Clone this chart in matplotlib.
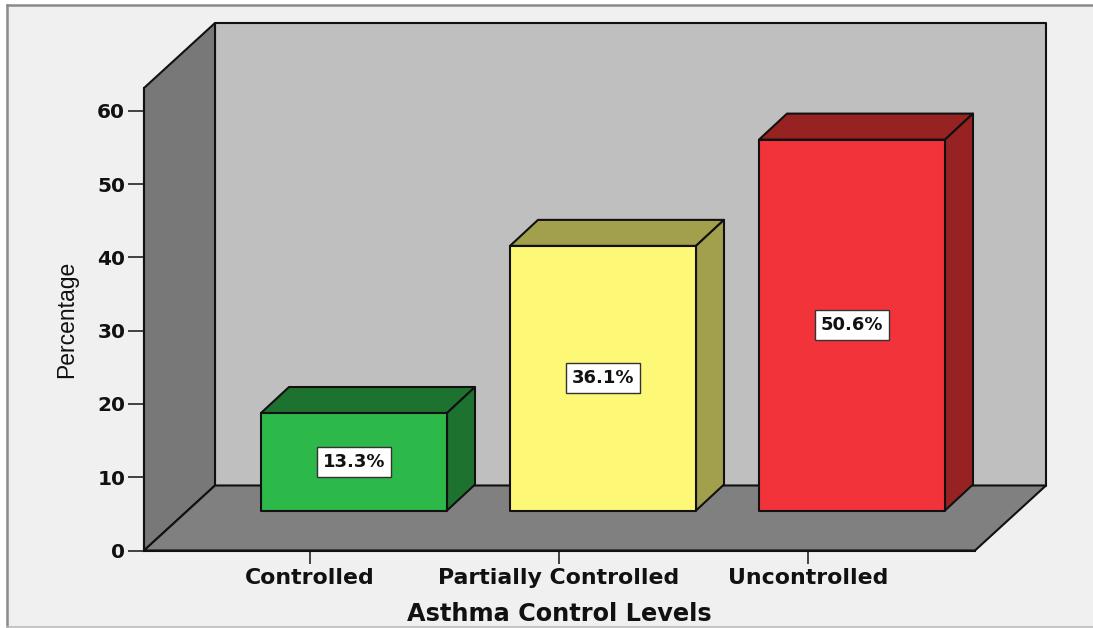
import matplotlib
matplotlib.use("Agg")
import matplotlib.pyplot as plt
from matplotlib.lines import Line2D
from matplotlib.patches import Polygon, Rectangle

categories = ["Controlled", "Partially Controlled", "Uncontrolled"]
percentages = [13.3, 36.1, 50.6]
y_ticks = [0, 10, 20, 30, 40, 50, 60]

front_colors = ["#2db84a", "#fdf875", "#f2333a"]
shade_colors = ["#1e722f", "#a3a04d", "#962222"]

W, H = 1093, 628
PX_X = 249.0   # pixels per category
PX_Y = 7.33    # pixels per percentage point
EDGE = 1.5

# box depth, bar inset from the front plane and bar depth, in data units
box_dx, box_dy = 71 / PX_X, 65 / PX_Y
inset_dx, inset_dy = 44 / PX_X, 40 / PX_Y
bar_dx, bar_dy = 28 / PX_X, 26 / PX_Y
half_w = 93 / PX_X

fig = plt.figure(figsize=(W / 100, H / 100), dpi=100, facecolor="white")

# panel background, grey frame on the left and top, faint line along the bottom
fx, fy = 7 / W, 1 - 5 / H
fb = 0.8 / H
fig.patches.append(Rectangle((fx, fb), 1 - fx, fy - fb, transform=fig.transFigure,
                             facecolor="#f0f0f0", edgecolor="none", zorder=-2))
fig.add_artist(Line2D([fx, fx], [fb, fy], color="#8a8a8a", linewidth=1.8, zorder=-1))
fig.add_artist(Line2D([fx, 1], [fy, fy], color="#8a8a8a", linewidth=1.8, zorder=-1))
fig.add_artist(Line2D([fx, 1], [fb, fb], color="#bbbbbb", linewidth=1.2, zorder=-1))

left, right, bottom, top = 144, 975, 550.5, 88
ax = fig.add_axes([left / W, 1 - bottom / H, (right - left) / W, (bottom - top) / H])
ax.set_xlim((left - 310) / PX_X, (right - 310) / PX_X)
ax.set_ylim(0, (bottom - top) / PX_Y)
ax.patch.set_visible(False)
x0, x1 = ax.get_xlim()
y1 = ax.get_ylim()[1]


def face(points, color, z):
    ax.add_patch(Polygon(points, closed=True, facecolor=color, edgecolor="#111111",
                         linewidth=EDGE, joinstyle="round", clip_on=False, zorder=z))


# back wall, side wall, floor
face([(x0 + box_dx, box_dy), (x1 + box_dx, box_dy), (x1 + box_dx, y1 + box_dy), (x0 + box_dx, y1 + box_dy)], "#bfbfbf", 1)
face([(x0, 0), (x0 + box_dx, box_dy), (x0 + box_dx, y1 + box_dy), (x0, y1)], "#787878", 1)
face([(x0, 0), (x1, 0), (x1 + box_dx, box_dy), (x0 + box_dx, box_dy)], "#808080", 1)

for i, v in enumerate(percentages):
    xl = i + inset_dx - half_w
    xr = i + inset_dx + half_w
    yb = inset_dy
    yt = inset_dy + v
    # top and side first, front face over them
    face([(xl, yt), (xr, yt), (xr + bar_dx, yt + bar_dy), (xl + bar_dx, yt + bar_dy)], shade_colors[i], 3)
    face([(xr, yb), (xr + bar_dx, yb + bar_dy), (xr + bar_dx, yt + bar_dy), (xr, yt)], shade_colors[i], 3)
    face([(xl, yb), (xr, yb), (xr, yt), (xl, yt)], front_colors[i], 4)
    ax.text(i + inset_dx, inset_dy + v / 2, f"{v}%", ha="center", va="center", zorder=5,
            fontsize=13, fontweight="bold", family="DejaVu Sans", color="#111111",
            bbox=dict(boxstyle="square,pad=0.32", facecolor="white", edgecolor="#333333", linewidth=1))

ax.set_xticks(range(len(categories)))
ax.set_xticklabels(categories)
ax.set_yticks(y_ticks)
for side in ["top", "right"]:
    ax.spines[side].set_visible(False)
for side in ["left", "bottom"]:
    ax.spines[side].set_linewidth(EDGE)
    ax.spines[side].set_color("#111111")
    ax.spines[side].set_zorder(2)
ax.tick_params(axis="y", length=11.5, width=1.3, color="#333333", pad=2, labelsize=14.5)
ax.tick_params(axis="x", length=9.5, width=1.3, color="#333333", pad=3, labelsize=15.8)
for label in ax.get_xticklabels() + ax.get_yticklabels():
    label.set_fontweight("bold")
    label.set_family("DejaVu Sans")
    label.set_color("#111111")

ax.set_xlabel("Asthma Control Levels", fontsize=17.3, fontweight="bold", family="DejaVu Sans",
              color="#111111", labelpad=10)
ax.set_ylabel("Percentage", fontsize=16.5, family="Liberation Sans", color="#111111", labelpad=14)

fig.savefig("out.png", dpi=100, facecolor=fig.get_facecolor())
